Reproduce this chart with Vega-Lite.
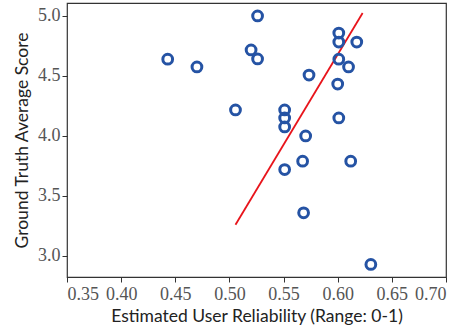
{
  "$schema": "https://vega.github.io/schema/vega-lite/v6.json",
  "width": 379,
  "height": 274,
  "autosize": "none",
  "padding": {"left": 67, "top": 3, "right": 17, "bottom": 56},
  "config": {
    "view": {"stroke": "#333333", "strokeWidth": 1.2},
    "axis": {
      "grid": false,
      "domain": false,
      "tickColor": "#333333",
      "tickSize": 5,
      "labelFont": "Liberation Serif",
      "labelFontSize": 18,
      "labelColor": "#555555",
      "titleFont": "Lato",
      "titleFontSize": 17.5,
      "titleFontWeight": "normal",
      "titleColor": "#222222"
    }
  },
  "datasets": {
    "pts": [
      {"x": 0.443, "y": 4.64},
      {"x": 0.470, "y": 4.575},
      {"x": 0.526, "y": 5.0},
      {"x": 0.520, "y": 4.717},
      {"x": 0.526, "y": 4.642},
      {"x": 0.5056, "y": 4.217},
      {"x": 0.551, "y": 4.217},
      {"x": 0.551, "y": 4.15},
      {"x": 0.551, "y": 4.075},
      {"x": 0.551, "y": 3.72},
      {"x": 0.5735, "y": 4.508},
      {"x": 0.5704, "y": 4.0},
      {"x": 0.5676, "y": 3.79},
      {"x": 0.5685, "y": 3.36},
      {"x": 0.601, "y": 4.858},
      {"x": 0.601, "y": 4.783},
      {"x": 0.6176, "y": 4.783},
      {"x": 0.601, "y": 4.64},
      {"x": 0.610, "y": 4.575},
      {"x": 0.600, "y": 4.433},
      {"x": 0.601, "y": 4.15},
      {"x": 0.612, "y": 3.79},
      {"x": 0.6306, "y": 2.93}
    ],
    "fit": [
      {"x": 0.5056, "y": 3.26},
      {"x": 0.623, "y": 5.025}
    ]
  },
  "layer": [
    {
      "data": {"name": "fit"},
      "mark": {"type": "line", "color": "#e8141b", "strokeWidth": 1.8, "clip": true},
      "encoding": {
        "x": {"field": "x", "type": "quantitative", "scale": {"domain": [0.35, 0.70], "nice": false, "zero": false},
              "axis": {"values": [0.35, 0.40, 0.45, 0.50, 0.55, 0.60, 0.65, 0.70], "format": ".2f", "title": "Estimated User Reliability (Range: 0-1)", "titlePadding": 4, "labelPadding": 3}},
        "y": {"field": "y", "type": "quantitative", "scale": {"domain": [2.825, 5.108], "nice": false, "zero": false},
              "axis": {"values": [3.0, 3.5, 4.0, 4.5, 5.0], "format": ".1f", "title": "Ground Truth Average Score", "titlePadding": 6, "labelPadding": 2}}
      }
    },
    {
      "data": {"name": "pts"},
      "mark": {"type": "point", "shape": "circle", "filled": false, "stroke": "#2553a4", "strokeWidth": 3, "size": 95, "opacity": 1},
      "encoding": {
        "x": {"field": "x", "type": "quantitative"},
        "y": {"field": "y", "type": "quantitative"}
      }
    }
  ]
}
